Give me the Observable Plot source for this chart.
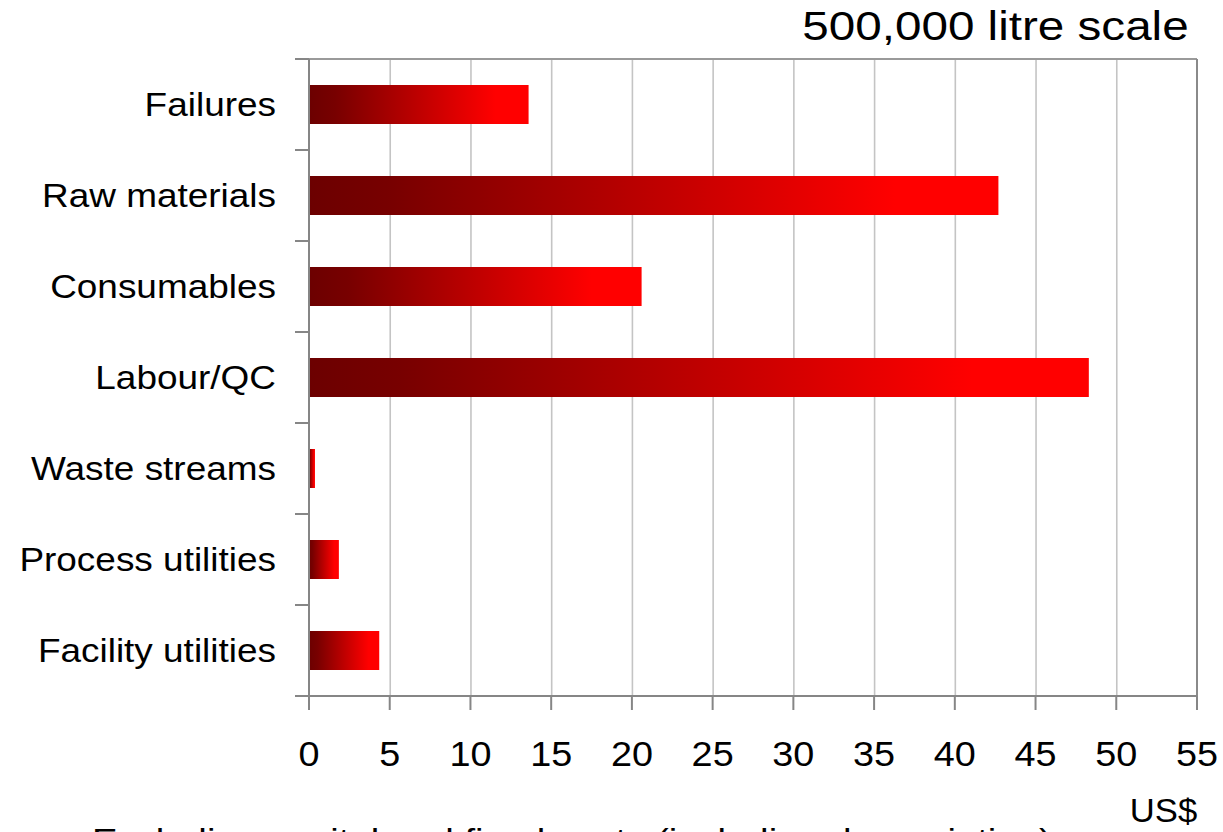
<!DOCTYPE html>
<html>
<head>
<meta charset="utf-8">
<script src="https://cdn.jsdelivr.net/npm/d3@7"></script>
<script src="https://cdn.jsdelivr.net/npm/@observablehq/plot@0.6"></script>
<style>
  html, body { margin: 0; padding: 0; background: #fff; overflow: hidden; width: 1223px; height: 832px; }
  #wrap { position: relative; width: 1223px; height: 832px; font-family: "Liberation Sans", Arial, sans-serif; color: #000; }
  .lbl { position: absolute; white-space: nowrap; }
  #title { top: 6px; right: 34px; font-size: 40px; line-height: 40px; transform: scaleX(1.19); transform-origin: right center; }
  #unit { top: 794px; right: 26px; font-size: 33px; line-height: 33px; transform: scaleX(1.05); transform-origin: right center; }
  #caption { top: 824px; left: 92px; font-size: 33px; line-height: 33px; transform: scaleX(1.16); transform-origin: left center; }
  #chart { position: absolute; left: 0; top: 0; }
</style>
</head>
<body>
<div id="wrap">
  <div id="chart"></div>
  <div id="title" class="lbl">500,000 litre scale</div>
  <div id="unit" class="lbl">US$</div>
  <div id="caption" class="lbl">Excluding capital and fixed costs (including depreciation)</div>
</div>
<script>
// ---- data ----
const categories = ["Failures", "Raw materials", "Consumables", "Labour/QC", "Waste streams", "Process utilities", "Facility utilities"];
const costs = [13.6, 42.7, 20.6, 48.3, 0.37, 1.85, 4.35];
const xTicks = [0, 5, 10, 15, 20, 25, 30, 35, 40, 45, 50, 55];
const xDomain = [0, 55];

const data = categories.map((c, i) => ({category: c, value: costs[i]}));

const BAR_PAD = 0.575;
const AXIS_COLOR = "#868686";
const FONT = "'Liberation Sans', Arial, sans-serif";

// gradient definition (render-only mark)
function gradientDefs() {
  const defs = d3.create("svg:defs");
  const g = defs.append("linearGradient").attr("id", "barGrad").attr("x1", 0).attr("x2", 1).attr("y1", 0).attr("y2", 0);
  g.append("stop").attr("offset", 0).attr("stop-color", "#6c0000");
  g.append("stop").attr("offset", 0.12).attr("stop-color", "#780000");
  g.append("stop").attr("offset", 0.85).attr("stop-color", "#ff0000");
  g.append("stop").attr("offset", 1).attr("stop-color", "#ff0000");
  return defs.node();
}

// frame, axes, ticks and labels, all positioned through the plot's scales
function axesMark(index, scales, values, dims) {
  const g = d3.create("svg:g").attr("fill", "none");
  const y = scales.y, x = scales.x;
  const ys = categories.map(c => y(c));
  const step = Math.abs(ys[1] - ys[0]);
  const bw = typeof y.bandwidth === "function" ? y.bandwidth() : step * (1 - BAR_PAD);
  const half = (step - bw) / 2;
  const top = Math.min(...ys) - half;
  const bottom = Math.max(...ys) + bw + half;
  const x0 = x(xDomain[0]), x1 = x(xDomain[1]);
  const line = (a, b, c, d, color) => g.append("line").attr("x1", a).attr("x2", b).attr("y1", c).attr("y2", d).attr("stroke", color).attr("stroke-width", 2);
  // top & right frame
  line(x0, x1, top, top, "#9a9a9a");
  line(x1, x1, top, bottom, "#8a8a8a");
  // left & bottom axis lines
  line(x0, x0, top, bottom, AXIS_COLOR);
  line(x0 - 14, x1, bottom, bottom, AXIS_COLOR);
  // category boundary ticks
  for (let k = 0; k <= categories.length; k++) line(x0 - 14, x0, top + k * step, top + k * step, AXIS_COLOR);
  // x ticks
  for (const t of xTicks) line(x(t), x(t), bottom, bottom + 14, AXIS_COLOR);
  // x tick labels
  const tx = g.append("g").attr("fill", "#000").attr("font-family", FONT).attr("font-size", 35).attr("text-anchor", "middle");
  for (const t of xTicks) {
    tx.append("text").attr("transform", `translate(${x(t)},${bottom + 45}) scale(1.08,1)`).attr("dy", "0.71em").text(String(t));
  }
  // y category labels
  const ty = g.append("g").attr("fill", "#000").attr("font-family", FONT).attr("font-size", 33).attr("text-anchor", "end");
  categories.forEach((c, i) => {
    ty.append("text").attr("transform", `translate(${x0 - 33},${ys[i] + bw / 2}) scale(1.12,1)`).attr("dy", "0.36em").text(c);
  });
  return g.node();
}

const chart = Plot.plot({
  width: 1223,
  height: 790,
  marginLeft: 309,
  marginRight: 26,
  marginTop: 58,
  marginBottom: 93,
  style: {fontFamily: FONT, background: "#fff", overflow: "visible", color: "#000"},
  x: {domain: xDomain, axis: null},
  y: {domain: categories, paddingInner: BAR_PAD, paddingOuter: BAR_PAD / 2, align: 0.5, axis: null},
  marks: [
    gradientDefs,
    Plot.ruleX(xTicks.filter(t => t > xDomain[0] && t < xDomain[1]), {stroke: "#c4c4c4", strokeWidth: 1.6}),
    Plot.barX(data, {x: "value", y: "category", fill: "url(#barGrad)"}),
    axesMark
  ]
});

document.getElementById("chart").appendChild(chart);
</script>
</body>
</html>
